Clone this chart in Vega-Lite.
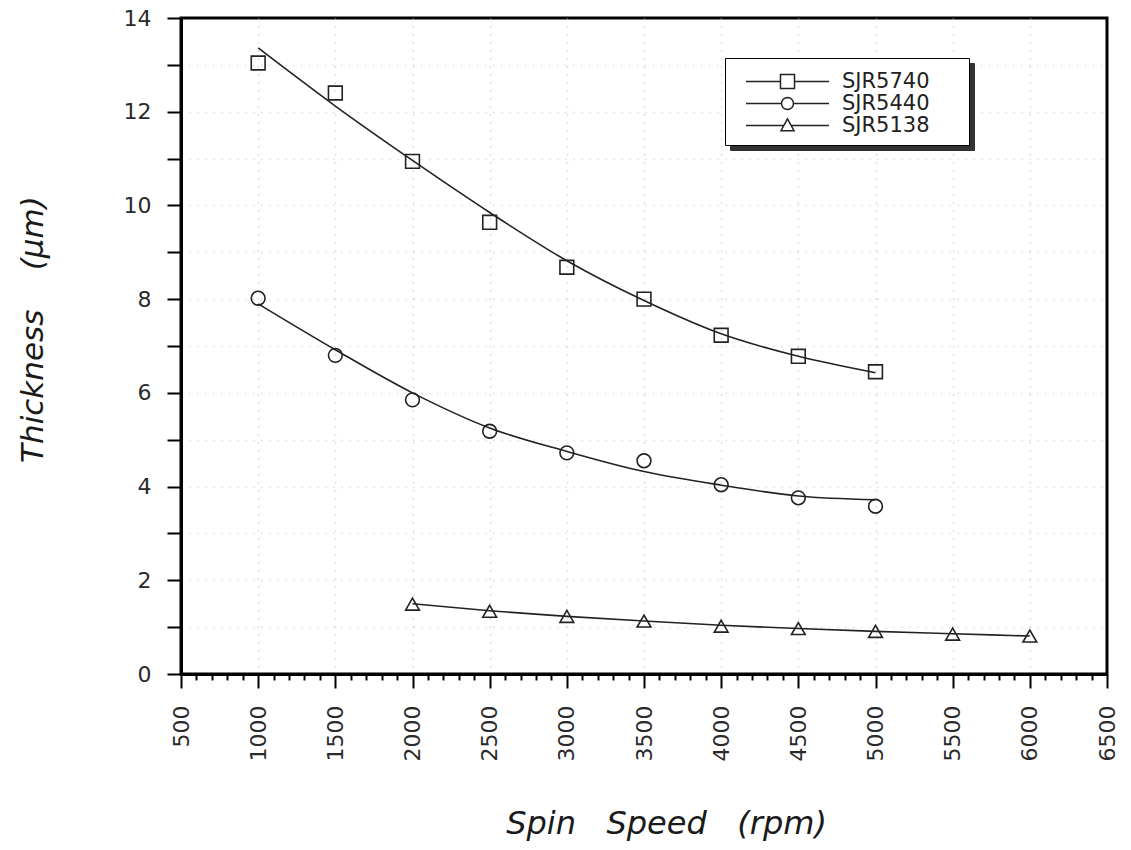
{
  "$schema": "https://vega.github.io/schema/vega-lite/v6.json",
  "width": 926,
  "height": 656,
  "autosize": {"type": "none"},
  "padding": {"left": 181, "top": 18, "right": 24, "bottom": 176},
  "background": "white",
  "config": {
    "view": {"stroke": "black", "strokeWidth": 3},
    "font": "DejaVu Sans",
    "axis": {
      "domainColor": "black",
      "domainWidth": 3,
      "tickColor": "black",
      "tickWidth": 2,
      "labelColor": "#2a2a2a",
      "titleColor": "#1a1a1a",
      "labelFont": "DejaVu Sans",
      "titleFont": "DejaVu Sans",
      "labelFontSize": 22,
      "titleFontStyle": "italic",
      "titleFontWeight": "normal",
      "gridColor": "#bbbbbb",
      "gridDash": [1, 7],
      "gridWidth": 1.5
    }
  },
  "datasets": {
    "points": [
      {"series": "SJR5740", "speed": 1000, "thickness": 13.04},
      {"series": "SJR5740", "speed": 1500, "thickness": 12.4},
      {"series": "SJR5740", "speed": 2000, "thickness": 10.94},
      {"series": "SJR5740", "speed": 2500, "thickness": 9.64},
      {"series": "SJR5740", "speed": 3000, "thickness": 8.68},
      {"series": "SJR5740", "speed": 3500, "thickness": 8.0},
      {"series": "SJR5740", "speed": 4000, "thickness": 7.23},
      {"series": "SJR5740", "speed": 4500, "thickness": 6.78},
      {"series": "SJR5740", "speed": 5000, "thickness": 6.45},
      {"series": "SJR5440", "speed": 1000, "thickness": 8.02},
      {"series": "SJR5440", "speed": 1500, "thickness": 6.8},
      {"series": "SJR5440", "speed": 2000, "thickness": 5.85},
      {"series": "SJR5440", "speed": 2500, "thickness": 5.18},
      {"series": "SJR5440", "speed": 3000, "thickness": 4.72},
      {"series": "SJR5440", "speed": 3500, "thickness": 4.55},
      {"series": "SJR5440", "speed": 4000, "thickness": 4.04},
      {"series": "SJR5440", "speed": 4500, "thickness": 3.76},
      {"series": "SJR5440", "speed": 5000, "thickness": 3.58},
      {"series": "SJR5138", "speed": 2000, "thickness": 1.49},
      {"series": "SJR5138", "speed": 2500, "thickness": 1.34},
      {"series": "SJR5138", "speed": 3000, "thickness": 1.23},
      {"series": "SJR5138", "speed": 3500, "thickness": 1.13},
      {"series": "SJR5138", "speed": 4000, "thickness": 1.02},
      {"series": "SJR5138", "speed": 4500, "thickness": 0.97},
      {"series": "SJR5138", "speed": 5000, "thickness": 0.91},
      {"series": "SJR5138", "speed": 5500, "thickness": 0.85},
      {"series": "SJR5138", "speed": 6000, "thickness": 0.81}
    ],
    "fits": [
      {"series": "SJR5740", "speed": 1000, "thickness": 13.36},
      {"series": "SJR5740", "speed": 1500, "thickness": 12.12},
      {"series": "SJR5740", "speed": 2000, "thickness": 10.96},
      {"series": "SJR5740", "speed": 2500, "thickness": 9.85},
      {"series": "SJR5740", "speed": 3000, "thickness": 8.82},
      {"series": "SJR5740", "speed": 3500, "thickness": 7.97},
      {"series": "SJR5740", "speed": 4000, "thickness": 7.26},
      {"series": "SJR5740", "speed": 4500, "thickness": 6.78},
      {"series": "SJR5740", "speed": 5000, "thickness": 6.43},
      {"series": "SJR5440", "speed": 1000, "thickness": 7.9},
      {"series": "SJR5440", "speed": 1500, "thickness": 6.92},
      {"series": "SJR5440", "speed": 2000, "thickness": 6.0},
      {"series": "SJR5440", "speed": 2500, "thickness": 5.25},
      {"series": "SJR5440", "speed": 3000, "thickness": 4.75},
      {"series": "SJR5440", "speed": 3500, "thickness": 4.32},
      {"series": "SJR5440", "speed": 4000, "thickness": 4.03},
      {"series": "SJR5440", "speed": 4500, "thickness": 3.8},
      {"series": "SJR5440", "speed": 5000, "thickness": 3.72},
      {"series": "SJR5138", "speed": 2000, "thickness": 1.5},
      {"series": "SJR5138", "speed": 2500, "thickness": 1.35},
      {"series": "SJR5138", "speed": 3000, "thickness": 1.23},
      {"series": "SJR5138", "speed": 3500, "thickness": 1.13},
      {"series": "SJR5138", "speed": 4000, "thickness": 1.04},
      {"series": "SJR5138", "speed": 4500, "thickness": 0.97},
      {"series": "SJR5138", "speed": 5000, "thickness": 0.91},
      {"series": "SJR5138", "speed": 5500, "thickness": 0.86},
      {"series": "SJR5138", "speed": 6000, "thickness": 0.81}
    ]
  },
  "layer": [
    {
      "data": {"name": "fits"},
      "mark": {"type": "line", "color": "#222", "strokeWidth": 1.6, "interpolate": "monotone"},
      "encoding": {
        "x": {
          "field": "speed", "type": "quantitative",
          "scale": {"domain": [500, 6500], "nice": false, "zero": false},
          "axis": {
            "title": "Spin\u00a0\u00a0\u00a0Speed\u00a0\u00a0\u00a0(rpm)",
            "titleFontSize": 32,
            "values": [500,600,700,800,900,1000,1100,1200,1300,1400,1500,1600,1700,1800,1900,2000,2100,2200,2300,2400,2500,2600,2700,2800,2900,3000,3100,3200,3300,3400,3500,3600,3700,3800,3900,4000,4100,4200,4300,4400,4500,4600,4700,4800,4900,5000,5100,5200,5300,5400,5500,5600,5700,5800,5900,6000,6100,6200,6300,6400,6500],
            "tickCount": 200,
            "labelExpr": "datum.value % 500 === 0 ? datum.label : ''",
            "format": "d",
            "labelAngle": 270,
            "labelPadding": 17,
            "labelFlush": false,
            "labelOverlap": false,
            "tickSize": {"condition": {"test": "datum.value % 500 === 0", "value": 14}, "value": 6},
            "grid": true,
            "gridOpacity": {"condition": {"test": "datum.value % 500 === 0 && datum.value > 500 && datum.value < 6500", "value": 0.9}, "value": 0},
            "titleX": 485,
            "titleY": 159,
            "titleBaseline": "alphabetic",
            "titleAnchor": "middle"
          }
        },
        "y": {
          "field": "thickness", "type": "quantitative",
          "scale": {"domain": [0, 14], "nice": false},
          "axis": {
            "title": "Thickness\u00a0\u00a0\u00a0\u00a0(μm)",
            "titleFontSize": 31,
            "values": [0,0.5,1,1.5,2,2.5,3,3.5,4,4.5,5,5.5,6,6.5,7,7.5,8,8.5,9,9.5,10,10.5,11,11.5,12,12.5,13,13.5,14],
            "tickCount": 200,
            "format": "d",
            "labelExpr": "datum.value % 2 === 0 ? datum.label : ''",
            "tickSize": 14,
            "labelPadding": 16,
            "labelFlush": false,
            "labelOverlap": false,
            "grid": true,
            "gridOpacity": {"condition": {"test": "datum.value > 0 && datum.value < 14", "value": 0.7}, "value": 0},
            "titleX": -148,
            "titleY": 311,
            "titleBaseline": "middle",
            "titleAnchor": "middle"
          }
        },
        "detail": {"field": "series"}
      }
    },
    {
      "data": {"name": "points"},
      "mark": {"type": "point", "filled": false, "color": "#222", "strokeWidth": 1.6, "size": 190, "opacity": 1},
      "encoding": {
        "x": {"field": "speed", "type": "quantitative"},
        "y": {"field": "thickness", "type": "quantitative"},
        "shape": {
          "field": "series", "type": "nominal",
          "scale": {"domain": ["SJR5740", "SJR5440", "SJR5138"], "range": ["square", "circle", "triangle-up"]},
          "legend": null
        }
      }
    },
    {
      "data": {"name": "points"},
      "transform": [{"filter": "false"}],
      "mark": {"type": "point", "filled": false, "color": "#222", "strokeWidth": 1, "opacity": 1},
      "encoding": {
        "shape": {
          "field": "series", "type": "nominal",
          "scale": {"domain": ["SJR5740", "SJR5440", "SJR5138"], "range": ["M-1,0L1,0", "M-1,0L1,0", "M-1,0L1,0"]},
          "legend": {
            "title": null, "orient": "none", "legendX": 549, "legendY": 45,
            "strokeColor": "#333", "fillColor": "#333", "padding": 0,
            "clipHeight": 29, "rowPadding": 0,
            "symbolSize": 59049, "symbolStrokeWidth": 1,
            "symbolStrokeColor": "transparent", "symbolFillColor": "transparent",
            "labelExpr": "''", "labelFontSize": 1, "labelOffset": 0
          }
        }
      }
    },
    {
      "data": {"name": "points"},
      "transform": [{"filter": "false"}],
      "mark": {"type": "point", "filled": false, "color": "#222", "strokeWidth": 1, "opacity": 1},
      "encoding": {
        "shape": {
          "field": "series", "type": "nominal",
          "scale": {"domain": ["SJR5740", "SJR5440", "SJR5138"], "range": ["M-1,0L1,0", "M-1,0L1,0", "M-1,0L1,0"]},
          "legend": {
            "title": null, "orient": "none", "legendX": 544, "legendY": 40,
            "strokeColor": "black", "fillColor": "white", "padding": 0,
            "clipHeight": 29, "rowPadding": 0,
            "symbolSize": 59049, "symbolStrokeWidth": 1,
            "symbolStrokeColor": "transparent", "symbolFillColor": "transparent",
            "labelExpr": "''", "labelFontSize": 1, "labelOffset": 0
          }
        }
      }
    },
    {
      "data": {"name": "points"},
      "transform": [{"filter": "false"}],
      "mark": {"type": "point", "filled": false, "color": "#222", "strokeWidth": 1.6, "opacity": 1},
      "encoding": {
        "shape": {
          "field": "series", "type": "nominal",
          "scale": {
            "domain": ["SJR5740", "SJR5440", "SJR5138"],
            "range": [
              "M-1,0L-0.169,0M0.169,0L1,0M-0.169,-0.169L0.169,-0.169L0.169,0.169L-0.169,0.169Z",
              "M-1,0L-0.145,0M0.145,0L1,0M0.145,0L0.134,0.055L0.103,0.103L0.055,0.134L0,0.145L-0.055,0.134L-0.103,0.103L-0.134,0.055L-0.145,0L-0.134,-0.055L-0.103,-0.103L-0.055,-0.134L0,-0.145L0.055,-0.134L0.103,-0.103L0.134,-0.055Z",
              "M-1,0L-0.09,0M0.09,0L1,0M0,-0.16L0.157,0.125L-0.157,0.125Z"
            ]
          },
          "legend": {
            "title": null, "orient": "none", "legendX": 564, "legendY": 53,
            "strokeColor": "transparent", "fillColor": "transparent", "padding": 0,
            "clipHeight": 21, "rowPadding": 0,
            "symbolSize": 6889, "symbolStrokeWidth": 1.5,
            "symbolStrokeColor": "#222", "symbolFillColor": "transparent",
            "labelFont": "DejaVu Sans", "labelFontSize": 21, "labelColor": "#222",
            "labelOffset": 12
          }
        }
      }
    }
  ],
  "resolve": {
    "scale": {"shape": "independent"},
    "legend": {"shape": "independent"}
  }
}
